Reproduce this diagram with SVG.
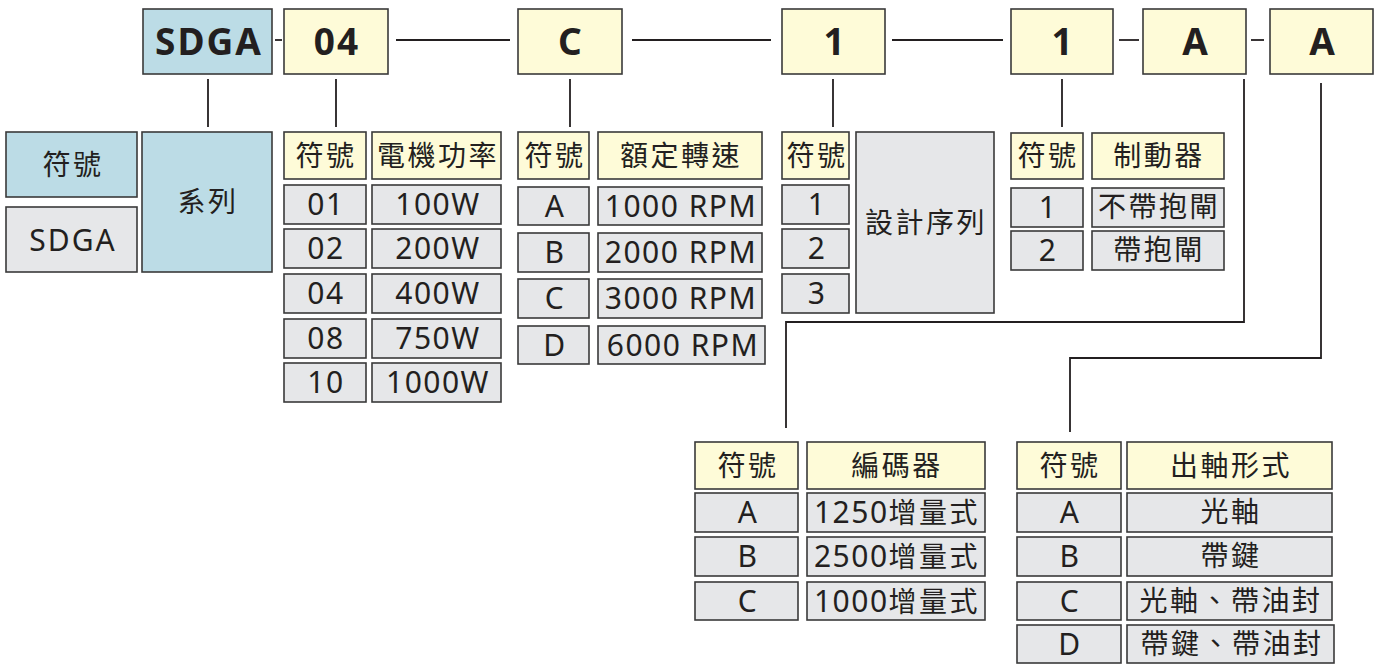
<svg xmlns="http://www.w3.org/2000/svg" width="1383" height="664" viewBox="0 0 1383 664">
<style>
rect{stroke:#3a3a3a;stroke-width:1.6}
.b{fill:#bcdce6}.y{fill:#fefbd8}.g{fill:#e6e7e9}
text{font-family:"Noto Sans","Noto Sans CJK TC",sans-serif;fill:#231f20;text-anchor:middle}
.h{font-size:37px;font-weight:bold;letter-spacing:2px}
.t{font-size:28px;letter-spacing:2.5px}
.l{font-size:30px;letter-spacing:1.5px}
.d{font-size:30px;letter-spacing:1.5px}
#connectors line,#connectors polyline{stroke:#231f20;stroke-width:1.8;fill:none}
</style>
<rect width="1383" height="664" fill="#fff" style="stroke:none"/>
<g id="connectors">
<line x1="275" y1="40" x2="282" y2="40"/>
<line x1="396" y1="40" x2="510" y2="40"/>
<line x1="632" y1="40" x2="771" y2="40"/>
<line x1="892" y1="40" x2="1003" y2="40"/>
<line x1="1119" y1="40" x2="1139" y2="40"/>
<line x1="1251" y1="40" x2="1264" y2="40"/>
<line x1="208" y1="79" x2="208" y2="127"/>
<line x1="336" y1="79" x2="336" y2="127"/>
<line x1="570" y1="79" x2="570" y2="127"/>
<line x1="833" y1="79" x2="833" y2="127"/>
<line x1="1062" y1="79" x2="1062" y2="127"/>
<polyline points="1244,79 1244,322 786,322 786,428"/>
<polyline points="1321,83 1321,358 1070,358 1070,432"/>
</g>
<g id="code">
<rect class="b" x="143" y="9" width="129" height="65"/><text class="h" x="209" y="55">SDGA</text>
<rect class="y" x="284" y="9" width="104" height="65"/><text class="h" x="337" y="55">04</text>
<rect class="y" x="518" y="9" width="104" height="65"/><text class="h" x="571" y="55">C</text>
<rect class="y" x="782" y="9" width="103" height="65"/><text class="h" x="835" y="55">1</text>
<rect class="y" x="1011" y="9" width="102" height="65"/><text class="h" x="1063" y="55">1</text>
<rect class="y" x="1143" y="9" width="103" height="65"/><text class="h" x="1196" y="55">A</text>
<rect class="y" x="1270" y="9" width="103" height="65"/><text class="h" x="1323" y="55">A</text>
</g>
<g id="series">
<rect class="b" x="6" y="132" width="131" height="65"/><text class="t" x="73" y="175">符號</text>
<rect class="g" x="6" y="207" width="131" height="65"/><text class="l" x="73" y="251" style="letter-spacing:2px">SDGA</text>
<rect class="b" x="142" y="132" width="130" height="140"/><text class="t" x="208" y="212">系列</text>
</g>
<g id="power">
<rect class="y" x="284" y="132" width="82" height="47"/><text class="t" x="326" y="166">符號</text>
<rect class="y" x="372" y="132" width="129" height="47"/><text class="t" x="438" y="166">電機功率</text>
<rect class="g" x="284" y="185" width="82" height="39"/><text class="l" x="326" y="215">01</text>
<rect class="g" x="372" y="185" width="129" height="39"/><text class="l" x="438" y="215">100W</text>
<rect class="g" x="284" y="229" width="82" height="39"/><text class="l" x="326" y="259">02</text>
<rect class="g" x="372" y="229" width="129" height="39"/><text class="l" x="438" y="259">200W</text>
<rect class="g" x="284" y="274" width="82" height="39"/><text class="l" x="326" y="304">04</text>
<rect class="g" x="372" y="274" width="129" height="39"/><text class="l" x="438" y="304">400W</text>
<rect class="g" x="284" y="319" width="82" height="39"/><text class="l" x="326" y="349">08</text>
<rect class="g" x="372" y="319" width="129" height="39"/><text class="l" x="438" y="349">750W</text>
<rect class="g" x="284" y="363" width="82" height="39"/><text class="l" x="326" y="393">10</text>
<rect class="g" x="372" y="363" width="129" height="39"/><text class="l" x="438" y="393">1000W</text>
</g>
<g id="speed">
<rect class="y" x="518" y="132" width="71" height="47"/><text class="t" x="555" y="166">符號</text>
<rect class="y" x="598" y="132" width="164" height="47"/><text class="t" x="681" y="166">額定轉速</text>
<rect class="g" x="518" y="187" width="71" height="38"/><text class="l" x="555" y="217">A</text>
<rect class="g" x="598" y="187" width="164" height="38"/><text class="l" x="681" y="217">1000 RPM</text>
<rect class="g" x="518" y="233" width="71" height="39"/><text class="l" x="555" y="263">B</text>
<rect class="g" x="598" y="233" width="164" height="39"/><text class="l" x="681" y="263">2000 RPM</text>
<rect class="g" x="518" y="279" width="71" height="39"/><text class="l" x="555" y="309">C</text>
<rect class="g" x="598" y="279" width="164" height="39"/><text class="l" x="681" y="309">3000 RPM</text>
<rect class="g" x="518" y="326" width="71" height="38"/><text class="l" x="555" y="356">D</text>
<rect class="g" x="598" y="326" width="167" height="38"/><text class="l" x="683" y="356">6000 RPM</text>
</g>
<g id="design">
<rect class="y" x="782" y="132" width="67" height="47"/><text class="t" x="817" y="166">符號</text>
<rect class="g" x="782" y="185" width="67" height="39"/><text class="l" x="817" y="215">1</text>
<rect class="g" x="782" y="229" width="67" height="39"/><text class="l" x="817" y="259">2</text>
<rect class="g" x="782" y="274" width="67" height="39"/><text class="l" x="817" y="304">3</text>
<rect class="g" x="856" y="132" width="138" height="181"/><text class="t" x="926" y="233">設計序列</text>
</g>
<g id="brake">
<rect class="y" x="1011" y="133" width="72" height="46"/><text class="t" x="1048" y="166">符號</text>
<rect class="y" x="1092" y="133" width="132" height="46"/><text class="t" x="1159" y="166">制動器</text>
<rect class="g" x="1011" y="188" width="72" height="39"/><text class="l" x="1048" y="218">1</text>
<rect class="g" x="1092" y="188" width="132" height="39"/><text class="t" x="1159" y="217">不帶抱閘</text>
<rect class="g" x="1011" y="231" width="72" height="39"/><text class="l" x="1048" y="261">2</text>
<rect class="g" x="1092" y="231" width="132" height="39"/><text class="t" x="1159" y="260">帶抱閘</text>
</g>
<g id="encoder">
<rect class="y" x="695" y="442" width="103" height="47"/><text class="t" x="748" y="476">符號</text>
<rect class="y" x="807" y="442" width="178" height="47"/><text class="t" x="897" y="476">編碼器</text>
<rect class="g" x="695" y="493" width="103" height="39"/><text class="l" x="748" y="523">A</text>
<rect class="g" x="807" y="493" width="178" height="39"/><text class="t" x="897" y="523"><tspan class="d">1250</tspan>增量式</text>
<rect class="g" x="695" y="537" width="103" height="39"/><text class="l" x="748" y="567">B</text>
<rect class="g" x="807" y="537" width="178" height="39"/><text class="t" x="897" y="567"><tspan class="d">2500</tspan>增量式</text>
<rect class="g" x="695" y="582" width="103" height="38"/><text class="l" x="748" y="612">C</text>
<rect class="g" x="807" y="582" width="178" height="38"/><text class="t" x="897" y="612"><tspan class="d">1000</tspan>增量式</text>
</g>
<g id="shaft">
<rect class="y" x="1017" y="442" width="104" height="47"/><text class="t" x="1070" y="476">符號</text>
<rect class="y" x="1127" y="442" width="205" height="47"/><text class="t" x="1231" y="476">出軸形式</text>
<rect class="g" x="1017" y="493" width="104" height="39"/><text class="l" x="1070" y="523">A</text>
<rect class="g" x="1127" y="493" width="205" height="39"/><text class="t" x="1231" y="522">光軸</text>
<rect class="g" x="1017" y="537" width="104" height="39"/><text class="l" x="1070" y="567">B</text>
<rect class="g" x="1127" y="537" width="205" height="39"/><text class="t" x="1231" y="566">帶鍵</text>
<rect class="g" x="1017" y="582" width="104" height="38"/><text class="l" x="1070" y="612">C</text>
<rect class="g" x="1127" y="582" width="205" height="38"/><text class="t" x="1231" y="611">光軸、帶油封</text>
<rect class="g" x="1017" y="625" width="104" height="38"/><text class="l" x="1070" y="655">D</text>
<rect class="g" x="1127" y="625" width="207" height="38"/><text class="t" x="1232" y="654">帶鍵、帶油封</text>
</g>
</svg>
